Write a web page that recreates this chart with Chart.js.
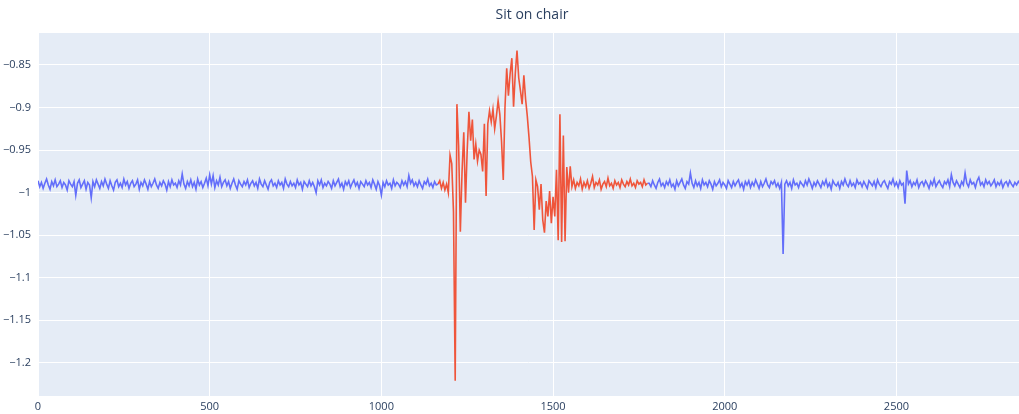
<!DOCTYPE html>
<html>
<head>
<meta charset="utf-8">
<script src="https://cdn.jsdelivr.net/npm/chart.js@4.4.0/dist/chart.umd.min.js"></script>
<style>
  body { margin: 0; background: #fff; }
  canvas { display: block; }
</style>
</head>
<body>
<canvas id="chart" width="1019" height="414"></canvas>
<script>
'use strict';

// ---- data ----
const titleText = 'Sit on chair';
const xTicks = [0, 500, 1000, 1500, 2000, 2500];
const yTicks = [-1.2, -1.15, -1.1, -1.05, -1, -0.95, -0.9, -0.85];

// blue, before the event: x = 0, 5, ... 1160
const blueBeforeStart = 0, blueStep = 5;
const blueBefore = [
  -0.986,-0.993,-0.988,-0.995,-0.989,-0.984,-0.991,-0.996,-0.987,-0.992,
  -0.985,-0.993,-0.990,-0.986,-0.994,-0.988,-0.991,-0.997,-0.986,-0.990,
  -0.993,-0.987,-1.003,-0.989,-0.985,-0.994,-0.990,-0.986,-0.996,-0.988,
  -0.991,-1.006,-0.987,-0.993,-0.985,-0.990,-0.995,-0.987,-0.992,-0.984,
  -0.990,-0.995,-0.986,-0.992,-0.997,-0.988,-0.985,-0.993,-0.989,-0.994,
  -0.984,-0.991,-0.987,-0.995,-0.989,-0.986,-0.993,-0.990,-0.985,-0.996,
  -0.988,-0.992,-0.985,-0.990,-0.996,-0.987,-0.993,-0.989,-0.984,-0.991,
  -0.995,-0.988,-0.992,-0.986,-0.990,-0.997,-0.987,-0.993,-0.985,-0.991,
  -0.989,-0.994,-0.986,-0.991,-0.978,-0.990,-0.995,-0.987,-0.992,-0.985,
  -0.993,-0.988,-0.996,-0.984,-0.991,-0.987,-0.994,-0.989,-0.983,-0.992,
  -0.979,-0.990,-0.980,-0.994,-0.986,-0.991,-0.982,-0.993,-0.988,-0.985,
  -0.992,-0.987,-0.995,-0.989,-0.984,-0.991,-0.996,-0.986,-0.990,-0.993,
  -0.987,-0.991,-0.985,-0.994,-0.989,-0.986,-0.992,-0.988,-0.995,-0.984,
  -0.990,-0.993,-0.986,-0.991,-0.996,-0.988,-0.985,-0.992,-0.989,-0.994,
  -0.986,-0.991,-0.988,-0.995,-0.984,-0.990,-0.993,-0.987,-0.992,-0.989,
  -0.994,-0.985,-0.991,-0.988,-0.996,-0.987,-0.990,-0.993,-0.986,-0.992,
  -0.988,-0.993,-1.000,-0.986,-0.991,-0.985,-0.994,-0.989,-0.992,-0.987,
  -0.990,-0.995,-0.986,-0.992,-0.988,-0.984,-0.993,-0.989,-0.996,-0.987,
  -0.991,-0.986,-0.994,-0.989,-0.985,-0.992,-0.988,-0.995,-0.987,-0.990,
  -0.993,-0.986,-0.991,-0.988,-0.994,-0.985,-0.990,-0.996,-0.987,-0.992,
  -1.003,-0.988,-0.993,-0.986,-0.991,-0.989,-0.995,-0.985,-0.992,-0.988,
  -0.990,-0.994,-0.986,-0.991,-0.987,-0.993,-0.980,-0.989,-0.985,-0.992,
  -0.988,-0.993,-0.986,-0.991,-0.995,-0.987,-0.990,-0.984,-0.992,-0.989,
  -0.994,-0.987,-0.991
];

// red, sitting down: x = 1165, 1170, ... 1775
const redStart = 1165, redStep = 5;
const redValues = [
  -0.990,-0.986,-0.995,-0.988,-0.997,-0.990,-1.000,-0.956,-0.966,-1.022,
  -1.221,-0.896,-0.945,-1.046,-0.975,-0.929,-1.012,-0.950,-0.905,-0.939,
  -0.914,-0.961,-0.943,-0.963,-0.950,-0.955,-0.975,-0.919,-1.004,-0.919,
  -0.904,-0.917,-0.902,-0.925,-0.910,-0.892,-0.908,-0.940,-0.985,-0.900,
  -0.854,-0.886,-0.860,-0.842,-0.899,-0.860,-0.833,-0.865,-0.880,-0.896,
  -0.862,-0.890,-0.910,-0.935,-0.964,-0.981,-1.044,-0.985,-0.993,-1.020,
  -0.990,-1.032,-1.047,-1.010,-1.028,-0.998,-1.036,-1.005,-1.028,-0.973,
  -1.056,-0.908,-1.058,-0.933,-1.057,-0.970,-1.000,-0.969,-0.993,-0.985,
  -0.995,-0.988,
  -0.992,-0.984,-0.996,-0.988,-0.993,-0.986,-0.995,-0.989,-0.981,-0.994,
  -0.988,-0.991,-0.985,-0.996,-0.990,-0.987,-0.993,-0.983,-0.992,-0.989,
  -0.995,-0.986,-0.991,-0.988,-0.994,-0.985,-0.990,-0.993,-0.987,-0.991,
  -0.984,-0.992,-0.989,-0.994,-0.986,-0.990,-0.988,-0.993,-0.985,-0.991,
  -0.989
];

// blue, after the event: x = 1780, 1785, ... 2855, 2857
const blueAfterStart = 1780, xEnd = 2857;
const blueAfter = [
  -0.989,-0.993,-0.986,-0.991,-0.995,-0.988,-0.984,-0.992,-0.989,-0.994,
  -0.987,-0.991,-0.985,-0.993,-0.990,-0.996,-0.986,-0.992,-0.988,-0.984,
  -0.991,-0.995,-0.987,-0.990,-0.977,-0.989,-0.994,-0.986,-0.992,-0.988,
  -0.995,-0.985,-0.991,-0.988,-0.993,-0.986,-0.990,-0.996,-0.987,-0.992,
  -0.989,-0.985,-0.993,-0.988,-0.991,-0.995,-0.986,-0.990,-0.994,-0.987,
  -0.992,-0.988,-0.985,-0.993,-0.989,-0.996,-0.987,-0.991,-0.986,-0.994,
  -0.988,-0.992,-0.985,-0.990,-0.995,-0.987,-0.993,-0.989,-0.984,-0.991,
  -0.994,-0.987,-0.990,-0.986,-0.993,-0.989,-0.995,-0.988,-1.072,-0.990,
  -0.986,-0.992,-0.988,-0.995,-0.985,-0.991,-0.989,-0.994,-0.987,-0.990,
  -0.993,-0.986,-0.991,-0.984,-0.989,-0.995,-0.988,-0.992,-0.986,-0.990,
  -0.994,-0.987,-0.991,-0.985,-0.993,-0.989,-0.996,-0.986,-0.990,-0.992,
  -0.988,-0.995,-0.987,-0.991,-0.984,-0.990,-0.993,-0.986,-0.992,-0.989,
  -0.994,-0.985,-0.990,-0.988,-0.993,-0.987,-0.991,-0.995,-0.986,-0.989,
  -0.992,-0.987,-0.994,-0.985,-0.990,-0.993,-0.988,-0.986,-0.991,-0.995,
  -0.987,-0.990,-0.984,-0.992,-0.988,-0.994,-0.986,-0.991,-0.989,-1.013,
  -0.974,-0.990,-0.986,-0.993,-0.988,-0.991,-0.985,-0.994,-0.989,-0.987,
  -0.992,-0.986,-0.990,-0.995,-0.987,-0.991,-0.984,-0.993,-0.989,-0.986,
  -0.991,-0.994,-0.987,-0.990,-0.985,-0.993,-0.979,-0.988,-0.992,-0.986,
  -0.990,-0.994,-0.987,-0.991,-0.977,-0.989,-0.993,-0.985,-0.990,-0.988,
  -0.994,-0.986,-0.982,-0.991,-0.988,-0.993,-0.985,-0.990,-0.987,-0.992,
  -0.989,-0.985,-0.993,-0.988,-0.991,-0.986,-0.994,-0.989,-0.987,-0.992,
  -0.986,-0.990,-0.993,-0.988,-0.991,-0.987,-0.989
];

const BLUE = '#636efa';
const RED = '#ef553b';
const FONT = '"Open Sans", "Noto Sans", sans-serif';
const TEXT = '#2a3f5f';

// ---- build points ----
function toPoints(values, start, step) {
  let pts = [];
  for (let i = 0; i < values.length; i++) {
    pts.push({x: Math.min(start + i * step, xEnd), y: values[i]});
  }
  return pts;
}
let redPts = toPoints(redValues, redStart, redStep);
let before = toPoints(blueBefore, blueBeforeStart, blueStep);
before.push(redPts[0]);
let after = toPoints(blueAfter, blueAfterStart, blueStep);
after.unshift(redPts[redPts.length - 1]);

function fmt(v) {
  return String(Number(v.toFixed(2))).replace('-', '\u2212');
}

const plotBg = {
  id: 'plotBg',
  beforeDraw(chart) {
    const a = chart.chartArea;
    const ctx = chart.ctx;
    ctx.save();
    ctx.fillStyle = '#e5ecf6';
    ctx.fillRect(a.left, a.top, a.right - a.left, a.bottom - a.top);
    ctx.restore();
  },
  afterDraw(chart) {
    const ctx = chart.ctx;
    ctx.save();
    ctx.fillStyle = TEXT;
    ctx.font = '14px ' + FONT;
    ctx.textAlign = 'center';
    ctx.textBaseline = 'middle';
    ctx.fillText(titleText, 532, 15);
    ctx.restore();
  }
};

const line = (data, color) => ({
  data: data,
  borderColor: color,
  borderWidth: 1.6,
  pointRadius: 0,
  tension: 0,
  fill: false
});

new Chart(document.getElementById('chart'), {
  type: 'line',
  data: {
    datasets: [line(redPts, RED), line(before, BLUE), line(after, BLUE)]
  },
  options: {
    responsive: false,
    animation: false,
    events: [],
    layout: {padding: {top: 33, right: 0, bottom: 0, left: 0}},
    plugins: {legend: {display: false}, tooltip: {enabled: false}, title: {display: false}},
    scales: {
      x: {
        type: 'linear',
        min: 0,
        max: xEnd,
        afterFit(s) { s.height = 18; },
        afterBuildTicks(s) { s.ticks = xTicks.map(v => ({value: v})); },
        grid: {color: '#ffffff', lineWidth: 1, drawTicks: false},
        border: {display: false},
        ticks: {
          color: TEXT, padding: 4, maxRotation: 0,
          font: {family: FONT, size: 11},
          callback: v => String(v)
        }
      },
      y: {
        type: 'linear',
        min: -1.239,
        max: -0.8124,
        afterFit(s) { s.width = 38; },
        afterBuildTicks(s) { s.ticks = yTicks.map(v => ({value: v})); },
        grid: {color: '#ffffff', lineWidth: 1, drawTicks: false},
        border: {display: false},
        ticks: {
          color: TEXT, padding: 7,
          font: {family: FONT, size: 11},
          callback: v => fmt(v)
        }
      }
    }
  },
  plugins: [plotBg]
});
</script>
</body>
</html>
